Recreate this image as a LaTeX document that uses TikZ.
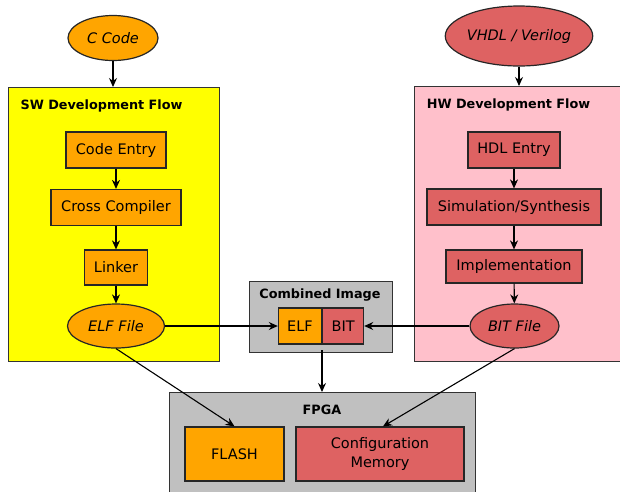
\documentclass[tikz,border=0pt]{standalone}
\usepackage{fontspec}
\setmainfont{DejaVu Sans}
\usetikzlibrary{shapes.geometric,arrows.meta}
\definecolor{swfill}{HTML}{FFA500}
\definecolor{hwfill}{HTML}{DE6262}
\definecolor{swarea}{HTML}{FFFF00}
\definecolor{hwarea}{HTML}{FFC0CB}
\definecolor{grayarea}{HTML}{C0C0C0}
\tikzset{
  every node/.style={inner sep=0pt, font=\fontsize{14.5}{17}\selectfont},
  area/.style={draw=black!80, line width=1.2pt, anchor=north west},
  title/.style={font=\fontsize{12.8}{15}\selectfont\bfseries},
  block/.style={draw=black!85, line width=1.2pt, minimum height=36pt},
  swblock/.style={block, fill=swfill},
  hwblock/.style={block, fill=hwfill},
  file/.style={ellipse, draw=black!85, line width=1.2pt, font=\fontsize{14.5}{17}\selectfont\itshape},
  flow/.style={-{Stealth[length=9pt,width=8pt]}, line width=1.1pt},
}
\begin{document}
\begin{tikzpicture}[x=1pt,y=-1pt]
\useasboundingbox (0,0) rectangle (620,491);
\clip (0,0) rectangle (620,491);

% source files
\node[file, fill=swfill, minimum width=90pt, minimum height=45pt] (ccode) at (113,38) {C Code};
\node[file, fill=hwfill, minimum width=138pt, minimum height=60pt] (vhdl) at (519,36) {VHDL / Verilog};

% development flow areas
\node[area, fill=swarea, minimum width=211pt, minimum height=274pt] (swarea) at (8,87) {};
\node[area, fill=hwarea, minimum width=220pt, minimum height=275pt] (hwarea) at (414,86) {};
\node[title] (swtitle) at (101.5,106) {SW Development Flow};
\node[title] (hwtitle) at (508.5,105) {HW Development Flow};

% software steps
\node[swblock, minimum width=100pt] (codeentry) at (116,150) {Code Entry};
\node[swblock, minimum width=130pt] (cross) at (116,207.5) {Cross Compiler};
\node[swblock, minimum width=63pt, minimum height=35pt] (linker) at (116,267.5) {Linker};
\node[file, fill=swfill, minimum width=97pt, minimum height=44pt] (elffile) at (116,326) {ELF File};

% hardware steps
\node[hwblock, minimum width=92pt] (hdlentry) at (514,150) {HDL Entry};
\node[hwblock, minimum width=174pt] (simsyn) at (514,207) {Simulation/Synthesis};
\node[hwblock, minimum width=136pt, minimum height=33pt] (impl) at (514,266.5) {Implementation};
\node[file, fill=hwfill, minimum width=89pt, minimum height=44pt] (bitfile) at (514.5,326) {BIT File};

% combined image
\node[area, fill=grayarea, minimum width=143pt, minimum height=71pt] (combined) at (249,281) {};
\node[title] (combtitle) at (320,295) {Combined Image};
\node[swblock, minimum width=43pt, anchor=east] (elf) at (322,326) {ELF};
\node[hwblock, minimum width=41pt, anchor=west] (bit) at (322,326) {BIT};

% FPGA
\node[area, fill=grayarea, minimum width=306pt, minimum height=120pt] (fpga) at (169,392) {};
\node[title] (fpgatitle) at (322,410) {FPGA};
\node[swblock, minimum width=99pt, minimum height=54pt] (flash) at (234.5,454) {FLASH};
\node[hwblock, minimum width=168pt, minimum height=54pt, align=center,
      font=\fontsize{14.5}{19}\selectfont] (config) at (380,454) {Configuration\\Memory};

% connectors
\draw[flow] (ccode) -- (swarea.north -| ccode);
\draw[flow] (vhdl) -- (hwarea.north -| vhdl);
\draw[flow] (codeentry) -- (cross);
\draw[flow] (cross) -- (linker);
\draw[flow] (linker) -- (elffile);
\draw[flow] (hdlentry) -- (simsyn);
\draw[flow] (simsyn) -- (impl);
\draw[flow] (impl) -- (bitfile);
\draw[flow] (elffile.east) -- (elf.west);
\draw[flow] (bitfile.west) -- (bit.east);
\coordinate (combout) at ([yshift=3pt]combined.south -| elf.east);
\draw[flow] (combout) -- (fpga.north -| combout);
\draw[flow] (elffile.south) -- (flash.north);
\draw[flow] (bitfile.south) -- ([xshift=3pt]config.north);
\end{tikzpicture}
\end{document}
